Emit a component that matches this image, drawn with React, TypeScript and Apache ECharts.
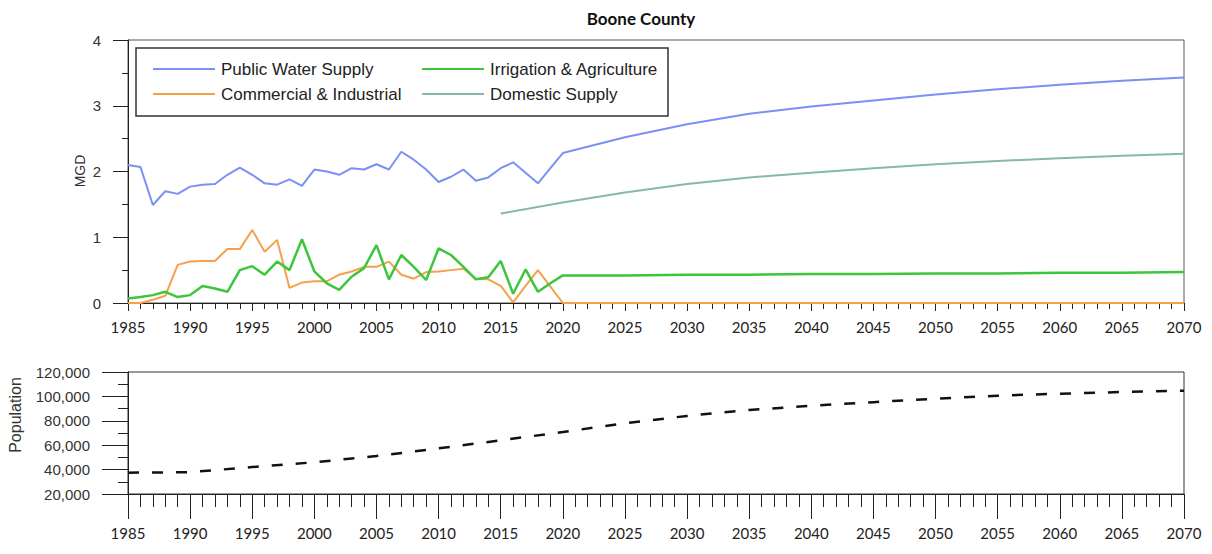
import React, { useEffect, useRef } from "react";
import * as echarts from "echarts";

// ---- Data ----
const histYears: number[] = [
  1985, 1986, 1987, 1988, 1989, 1990, 1991, 1992, 1993, 1994, 1995, 1996,
  1997, 1998, 1999, 2000, 2001, 2002, 2003, 2004, 2005, 2006, 2007, 2008,
  2009, 2010, 2011, 2012, 2013, 2014, 2015, 2016, 2017, 2018, 2019, 2020,
];
const projYears: number[] = [2025, 2030, 2035, 2040, 2045, 2050, 2055, 2060, 2065, 2070];

const publicWaterHist: number[] = [
  2.10, 2.07, 1.49, 1.70, 1.66, 1.77, 1.80, 1.81, 1.95, 2.06, 1.95, 1.82,
  1.80, 1.88, 1.78, 2.03, 2.00, 1.95, 2.05, 2.03, 2.11, 2.03, 2.30, 2.18,
  2.03, 1.84, 1.92, 2.03, 1.86, 1.91, 2.05, 2.14, 1.98, 1.82, 2.05, 2.28,
];
const publicWaterProj: number[] = [2.52, 2.72, 2.88, 2.99, 3.08, 3.17, 3.25, 3.32, 3.38, 3.43];

const commercialHist: number[] = [
  0.00, 0.00, 0.05, 0.11, 0.58, 0.63, 0.64, 0.64, 0.82, 0.82, 1.11, 0.78,
  0.96, 0.23, 0.31, 0.33, 0.33, 0.43, 0.48, 0.55, 0.55, 0.63, 0.43, 0.37,
  0.47, 0.48, 0.50, 0.52, 0.37, 0.36, 0.26, 0.01, 0.26, 0.50, 0.25, 0.00,
];
const commercialProj: number[] = [0, 0, 0, 0, 0, 0, 0, 0, 0, 0];

const irrigationHist: number[] = [
  0.07, 0.09, 0.12, 0.17, 0.09, 0.12, 0.26, 0.22, 0.17, 0.50, 0.56, 0.43,
  0.63, 0.50, 0.97, 0.48, 0.30, 0.20, 0.40, 0.53, 0.88, 0.36, 0.73, 0.55,
  0.35, 0.83, 0.73, 0.55, 0.36, 0.39, 0.64, 0.14, 0.51, 0.17, 0.30, 0.42,
];
const irrigationProj: number[] = [0.42, 0.43, 0.43, 0.44, 0.44, 0.45, 0.45, 0.46, 0.46, 0.47];

const domesticYears: number[] = [2015, 2020, 2025, 2030, 2035, 2040, 2045, 2050, 2055, 2060, 2065, 2070];
const domesticValues: number[] = [1.36, 1.53, 1.68, 1.81, 1.91, 1.98, 2.05, 2.11, 2.16, 2.20, 2.24, 2.27];

const popYears: number[] = [1985, 1990, 1995, 2000, 2005, 2010, 2015, 2020, 2025, 2030, 2035, 2040, 2045, 2050, 2055, 2060, 2065, 2070];
const popValues: number[] = [
  37500, 37900, 42100, 46000, 51100, 57400, 64000, 70800, 78000, 84000,
  88900, 92300, 95300, 98100, 100600, 102200, 103600, 104700,
];

const seriesNames = [
  "Public Water Supply",
  "Commercial & Industrial",
  "Irrigation & Agriculture",
  "Domestic Supply",
];

const zip = (xs: number[], ys: number[]) => xs.map((x, i) => [x, ys[i]]);

const LEGEND_ICON = "path://M0,0 L62,0 L62,2.2 L0,2.2 Z";

export default function App() {
  const ref = useRef<HTMLDivElement>(null);
  useEffect(() => {
    if (!ref.current) return;
    const chart = echarts.init(ref.current, null, { renderer: "svg" });
    const yearFmt = (v: number) => String(v);
    const xAxisBase = {
      type: "value" as const,
      min: 1985,
      max: 2070,
      interval: 5,
      splitLine: { show: false },
      axisLine: { lineStyle: { color: "#222", width: 1 } },
      axisLabel: {
        formatter: yearFmt,
        color: "#222",
        fontFamily: "Lato",
        fontSize: 15,
      },
    };
    const allYears = [...histYears, ...projYears];
    const legendCommon = {
      orient: "vertical",
      top: 55,
      itemWidth: 62,
      itemHeight: 2.2,
      itemGap: 7,
      icon: LEGEND_ICON,
      textStyle: {
        fontFamily: "Liberation Sans",
        fontSize: 17,
        color: "#222",
        lineHeight: 18,
        padding: [0, 0, 0, 1],
      },
    };
    chart.setOption({
      animation: false,
      backgroundColor: "#fff",
      grid: [
        { left: 128, right: 28, top: 40, height: 263, show: true, borderColor: "#555", borderWidth: 1 },
        { left: 128, right: 28, top: 372, height: 122, show: true, borderColor: "#333", borderWidth: 1 },
      ],
      xAxis: [
        {
          ...xAxisBase,
          gridIndex: 0,
          axisTick: { show: true, length: 8, lineStyle: { color: "#222" } },
          minorTick: { show: true, splitNumber: 5, length: 6, lineStyle: { color: "#222" } },
          axisLabel: { ...xAxisBase.axisLabel, margin: 16 },
        },
        {
          ...xAxisBase,
          gridIndex: 1,
          axisTick: { show: true, length: 25, lineStyle: { color: "#222" } },
          minorTick: { show: true, splitNumber: 5, length: 13, lineStyle: { color: "#222" } },
          axisLabel: { ...xAxisBase.axisLabel, margin: 31 },
        },
      ],
      yAxis: [
        {
          type: "value",
          gridIndex: 0,
          min: 0,
          max: 4,
          interval: 1,
          splitLine: { show: false },
          axisLine: { show: true, lineStyle: { color: "#222" } },
          axisTick: { show: true, length: 15, lineStyle: { color: "#222" } },
          minorTick: { show: true, splitNumber: 2, length: 6, lineStyle: { color: "#222" } },
          axisLabel: { margin: 27, color: "#333", fontFamily: "Liberation Sans", fontSize: 15 },
        },
        {
          type: "value",
          gridIndex: 1,
          min: 20000,
          max: 120000,
          interval: 20000,
          splitLine: { show: false },
          axisLine: { show: true, lineStyle: { color: "#222" } },
          axisTick: { show: true, length: 26, lineStyle: { color: "#222" } },
          minorTick: { show: true, splitNumber: 2, length: 10, lineStyle: { color: "#222" } },
          axisLabel: {
            margin: 38,
            color: "#333",
            fontFamily: "Liberation Sans",
            fontSize: 15,
            formatter: (v: number) => v.toLocaleString("en-US"),
          },
        },
      ],
      legend: [
        { ...legendCommon, left: 148, data: [seriesNames[0], seriesNames[1]] },
        { ...legendCommon, left: 417, data: [seriesNames[2], seriesNames[3]] },
      ],
      graphic: [
        {
          type: "text",
          x: 641,
          y: 18,
          style: {
            text: "Boone County",
            font: "bold 17px Lato",
            fill: "#111",
            textAlign: "center",
            textVerticalAlign: "middle",
          },
        },
        {
          type: "text",
          x: 80,
          y: 171,
          rotation: Math.PI / 2,
          style: {
            text: "MGD",
            font: "14px 'Liberation Sans'",
            fill: "#333",
            textAlign: "center",
            textVerticalAlign: "middle",
          },
        },
        {
          type: "text",
          x: 15,
          y: 415,
          rotation: Math.PI / 2,
          style: {
            text: "Population",
            font: "16px 'Liberation Sans'",
            fill: "#333",
            textAlign: "center",
            textVerticalAlign: "middle",
          },
        },
        {
          type: "rect",
          shape: { x: 136, y: 48, width: 532, height: 68 },
          style: { fill: "none", stroke: "#333", lineWidth: 1.5 },
          z: 100,
        },
      ],
      series: [
        {
          name: seriesNames[0],
          type: "line",
          xAxisIndex: 0,
          yAxisIndex: 0,
          symbol: "none",
          data: zip(allYears, [...publicWaterHist, ...publicWaterProj]),
          itemStyle: { color: "#7a91f3" },
          lineStyle: { color: "#7a91f3", width: 2 },
          z: 5,
        },
        {
          name: seriesNames[1],
          type: "line",
          xAxisIndex: 0,
          yAxisIndex: 0,
          symbol: "none",
          data: zip(allYears, [...commercialHist, ...commercialProj]),
          itemStyle: { color: "#f6a04c" },
          lineStyle: { color: "#f6a04c", width: 2 },
          z: 4,
        },
        {
          name: seriesNames[2],
          type: "line",
          xAxisIndex: 0,
          yAxisIndex: 0,
          symbol: "none",
          data: zip(allYears, [...irrigationHist, ...irrigationProj]),
          itemStyle: { color: "#3cc63c" },
          lineStyle: { color: "#3cc63c", width: 2.5 },
          z: 6,
        },
        {
          name: seriesNames[3],
          type: "line",
          xAxisIndex: 0,
          yAxisIndex: 0,
          symbol: "none",
          data: zip(domesticYears, domesticValues),
          itemStyle: { color: "#86b9a8" },
          lineStyle: { color: "#86b9a8", width: 2 },
          z: 3,
        },
        {
          name: "Population",
          type: "line",
          xAxisIndex: 1,
          yAxisIndex: 1,
          symbol: "none",
          data: zip(popYears, popValues),
          lineStyle: { color: "#111", width: 2.5, type: [11, 13] },
        },
      ],
    });
    return () => chart.dispose();
  }, []);
  return (
    <div
      ref={ref}
      style={{ position: "fixed", left: 0, top: 0, width: 1212, height: 554, background: "#fff" }}
    />
  );
}
